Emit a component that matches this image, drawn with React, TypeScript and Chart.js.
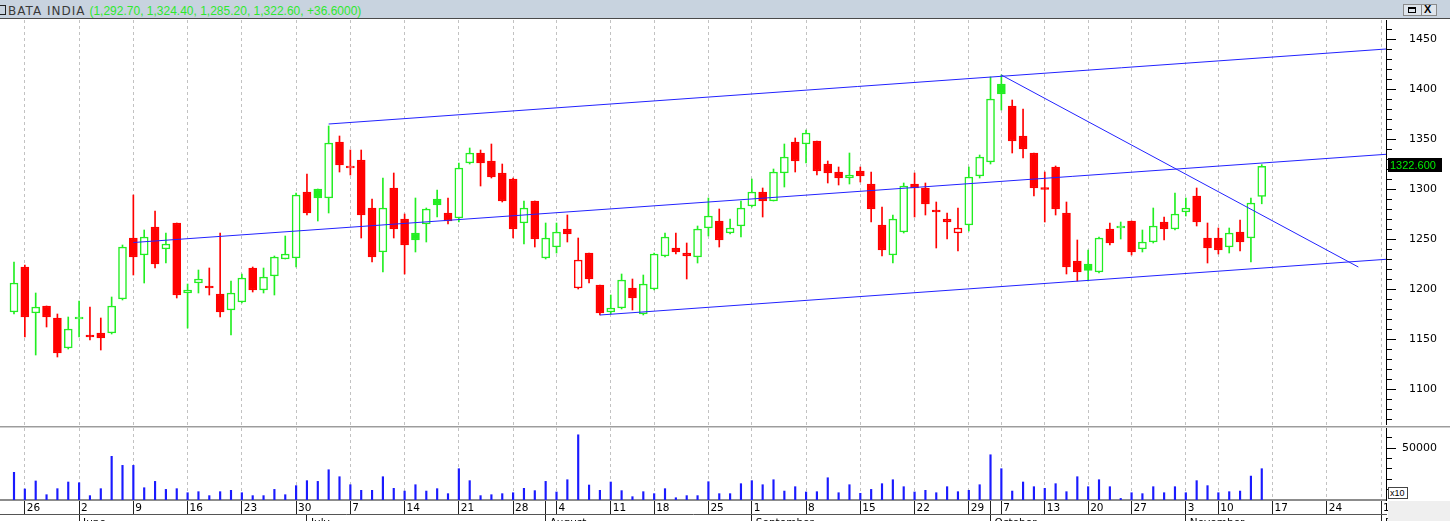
import React, { useEffect, useRef } from 'react';
import { Chart, registerables } from 'chart.js';

Chart.register(...registerables);

// ---------- data (one entry per trading day, 23 May 2014 .. 14 Nov 2014) ----------
const opens = [
  1177, 1222, 1176, 1183, 1171, 1141, 1170, 1153, 1156, 1156,
  1190, 1251, 1234, 1262, 1240, 1266, 1196, 1206, 1202, 1195,
  1179, 1187, 1221, 1199, 1213, 1230, 1231, 1297, 1300, 1291,
  1347, 1321, 1329, 1281, 1237, 1301, 1270, 1256, 1265, 1290,
  1276, 1271, 1326, 1336, 1328, 1316, 1310, 1266, 1288, 1231,
  1242, 1260, 1201, 1236, 1204, 1177, 1181, 1201, 1175, 1200,
  1233, 1241, 1236, 1232, 1261, 1268, 1256, 1263, 1283, 1297,
  1288, 1316, 1347, 1345, 1348, 1325, 1317, 1311, 1318, 1305,
  1264, 1234, 1257, 1305, 1301, 1278, 1270, 1256, 1264, 1313,
  1327, 1405, 1383, 1353, 1336, 1300.5, 1322, 1276, 1228, 1225,
  1217, 1260, 1261, 1268, 1240, 1247, 1267, 1260, 1277, 1293,
  1251, 1251, 1242, 1257, 1251, 1292.7,
];
const highs = [
  1227, 1224, 1196, 1183, 1175, 1172, 1188, 1182, 1171, 1192,
  1244, 1294, 1259, 1278, 1256, 1266, 1205, 1219, 1221, 1256,
  1208, 1215, 1222, 1221, 1233, 1253, 1296, 1315, 1300, 1363,
  1353, 1339, 1339, 1290, 1311, 1316, 1275, 1291, 1281, 1299,
  1291, 1326, 1341, 1339, 1345, 1325, 1311, 1288, 1288, 1266,
  1266, 1274, 1251, 1236, 1204, 1194, 1215, 1210, 1214, 1236,
  1256, 1256, 1246, 1263, 1291, 1280, 1270, 1288, 1310, 1301,
  1320, 1345, 1351, 1359, 1348, 1328, 1322, 1336, 1322, 1317,
  1282, 1274, 1306, 1316, 1306, 1287, 1276, 1281, 1322, 1334,
  1412, 1414, 1389, 1380, 1336, 1317, 1323, 1287, 1249, 1239,
  1252, 1266, 1267, 1268, 1259, 1281, 1272, 1296, 1291, 1301,
  1266, 1261, 1261, 1269, 1291, 1324.4,
];
const lows = [
  1175, 1152, 1134, 1162, 1132, 1140, 1152, 1149, 1139, 1155,
  1189, 1214, 1206, 1221, 1226, 1191, 1161, 1196, 1194, 1172,
  1154, 1186, 1197, 1196, 1194, 1230, 1222, 1274, 1268, 1276,
  1317, 1314, 1251, 1227, 1217, 1251, 1215, 1237, 1247, 1272,
  1265, 1267, 1325, 1303, 1311, 1287, 1251, 1245, 1242, 1230,
  1236, 1247, 1200, 1206, 1174, 1175, 1180, 1179, 1174, 1199,
  1232, 1235, 1210, 1226, 1253, 1242, 1255, 1252, 1282, 1272,
  1288, 1302, 1317, 1326, 1314, 1306, 1304, 1305, 1307, 1267,
  1233, 1226, 1256, 1272, 1274, 1241, 1250, 1238, 1258, 1311,
  1325, 1379, 1336, 1331, 1293, 1267, 1274, 1215, 1208, 1208,
  1216, 1244, 1250, 1234, 1237, 1246, 1249, 1259, 1273, 1263,
  1226, 1235, 1236, 1238, 1227, 1285.2,
];
const closes = [
  1206, 1172, 1182, 1172, 1136, 1160, 1171, 1152, 1151, 1183,
  1242, 1232, 1252, 1225, 1245, 1194, 1199, 1210, 1201, 1177,
  1196, 1211, 1199, 1212, 1232, 1235, 1294, 1276, 1291, 1346,
  1324, 1323, 1274, 1232, 1281, 1260, 1244, 1249, 1280, 1284,
  1268, 1321, 1336, 1326, 1312, 1288, 1260, 1281, 1250, 1251,
  1257, 1255, 1229, 1210, 1176, 1181, 1209, 1191, 1205, 1235,
  1252, 1237, 1233, 1260, 1273, 1249, 1261, 1281, 1297, 1288,
  1317, 1332, 1328, 1356, 1318, 1316, 1311, 1314, 1313, 1280,
  1239, 1270, 1303, 1301, 1285, 1277, 1267, 1261, 1312, 1332,
  1390, 1395, 1348, 1340, 1301, 1299.5, 1280, 1222, 1217, 1218.5,
  1251, 1246, 1261.5, 1237, 1247, 1263, 1260, 1275, 1281, 1267,
  1241, 1239, 1256, 1247, 1286, 1322.6,
];
const volumes = [
  26600, 10600, 18300, 5100, 10900, 17300, 16600, 4200, 10900, 42000,
  33300, 33300, 11800, 17900, 10200, 10900, 7000, 8000, 4200, 8000,
  9300, 7000, 4200, 4200, 10200, 5100, 13800, 18600, 17900, 29100,
  22400, 14700, 9300, 9300, 22400, 11200, 8600, 14700, 8600, 10900,
  6100, 30100, 18600, 4200, 5100, 6100, 7000, 11200, 9000, 17900,
  7700, 19500, 62700, 14400, 9300, 17300, 9000, 3200, 8000, 6100,
  10900, 2200, 4200, 4200, 17600, 6100, 6100, 15700, 18600, 14700,
  19500, 8600, 12800, 7700, 8000, 21400, 7000, 14700, 6400, 10200,
  15700, 19500, 12800, 7700, 9300, 7000, 12800, 8000, 9300, 14700,
  43500, 30100, 8600, 17300, 12800, 11200, 15700, 8000, 22400, 12800,
  19500, 12800, 1500, 7000, 6100, 12800, 7000, 12800, 7000, 18600,
  13800, 7000, 8000, 8600, 23000, 30100,
];

// week starts (trading-day slot index) and their day-of-month labels
const weekStarts = [1, 6, 11, 16, 21, 26, 31, 36, 41, 46, 50, 55, 59, 64, 68, 73, 78, 83, 88, 91, 95, 99, 103, 108, 111, 116, 121, 126];
const weekLabels = ['26', '2', '9', '16', '23', '30', '7', '14', '21', '28', '4', '11', '18', '25', '1', '8', '15', '22', '29', '7', '13', '20', '27', '3', '10', '17', '24', '1'];
const monthStarts = [6, 27, 49, 68, 90, 108, 126];
const monthLabels = ['June', 'July', 'August', 'September', 'October', 'November', 'December'];

const priceLabels = [1100, 1150, 1200, 1250, 1300, 1350, 1400, 1450];
const volumeLabels = [50000];

// trend lines: [slot index, price]
const upperChannel = [[29, 1365], [126.45, 1440]];
const middleChannel = [[11, 1246.5], [126.45, 1334.7]];
const lowerChannel = [[54, 1174], [126.45, 1229.7]];
const downTrend = [[91, 1414], [123.9, 1222]];

// ---------- styling ----------
const X_MIN = -1.29;
const X_MAX = 126.45;
const GREEN = '#22ee22';
const RED = '#ff0000';
const BLUE = '#2222ff';
const GRID = '#c2c2c2';
const FONT = 'DejaVu Sans';

const isUp = (i: number) => (i === 0 ? true : closes[i] >= closes[i - 1]);
const isHollow = (i: number) => closes[i] >= opens[i];
const candleColor = (i: number) => (isUp(i) ? GREEN : RED);

const minorTicks = (from: number, to: number, step: number) => {
  const out: number[] = [];
  for (let v = from; v <= to; v += step) out.push(v);
  return out;
};

const lastPricePlugin = {
  id: 'lastPrice',
  afterDraw(chart: any) {
    const { ctx, chartArea, scales } = chart;
    const v = closes[closes.length - 1];
    const y = scales.y.getPixelForValue(v);
    ctx.save();
    ctx.fillStyle = '#000000';
    ctx.fillRect(chartArea.right + 2, Math.round(y - 8.5), 54, 14);
    ctx.fillStyle = '#00ee00';
    ctx.font = '11px "Liberation Sans"';
    ctx.textBaseline = 'middle';
    ctx.textAlign = 'left';
    ctx.fillText(v.toFixed(3), chartArea.right + 4, Math.round(y - 8.5) + 7.5);
    ctx.restore();
  },
};

const lineDs = (pts: number[][]) => ({
  type: 'line' as const,
  data: pts.map(([x, y]) => ({ x, y })),
  borderColor: BLUE,
  borderWidth: 1,
  pointRadius: 0,
  order: 0,
});

function priceConfig(): any {
  return {
    type: 'bar',
    data: {
      datasets: [
        lineDs(upperChannel),
        lineDs(middleChannel),
        lineDs(lowerChannel),
        lineDs(downTrend),
        {
          type: 'bar',
          data: opens.map((o, i) => ({ x: i, y: [Math.min(o, closes[i]), Math.max(o, closes[i])] })),
          backgroundColor: (c: any) => (c.dataIndex == null ? '#fff' : isHollow(c.dataIndex) ? '#ffffff' : candleColor(c.dataIndex)),
          borderColor: (c: any) => (c.dataIndex == null ? GREEN : candleColor(c.dataIndex)),
          borderWidth: 1.5,
          borderSkipped: false,
          barThickness: 8,
          minBarLength: 2,
          grouped: false,
          order: 1,
        },
        {
          type: 'bar',
          data: highs.map((h, i) => ({ x: i, y: [lows[i], h] })),
          backgroundColor: (c: any) => (c.dataIndex == null ? GREEN : candleColor(c.dataIndex)),
          borderWidth: 0,
          barThickness: 1,
          grouped: false,
          order: 2,
        },
      ],
    },
    options: {
      animation: false,
      responsive: false,
      maintainAspectRatio: false,
      events: [],
      layout: { padding: { left: 0, right: 13, top: 0, bottom: 0 } },
      plugins: { legend: { display: false }, tooltip: { enabled: false }, title: { display: false } },
      scales: {
        x: {
          type: 'linear',
          min: X_MIN,
          max: X_MAX,
          bounds: 'data',
          offset: false,
          afterBuildTicks: (s: any) => { s.ticks = weekStarts.map((v) => ({ value: v })); },
          ticks: { display: false },
          grid: { offset: false, color: GRID, drawTicks: false, lineWidth: 1 },
          border: { display: false, dash: [3, 3] },
          afterFit: (s: any) => { s.height = 0; s.paddingLeft = 0; s.paddingRight = 0; },
        },
        y: {
          type: 'linear',
          position: 'right',
          min: 1064,
          max: 1469,
          bounds: 'data',
          afterBuildTicks: (s: any) => { s.ticks = minorTicks(1070, 1460, 10).map((v) => ({ value: v })); },
          ticks: {
            autoSkip: false,
            callback: (v: number) => (priceLabels.includes(v) ? String(v) : ''),
            crossAlign: 'far',
            padding: 12,
            color: '#000',
            font: { family: FONT, size: 11 },
          },
          grid: {
            drawOnChartArea: false,
            drawTicks: true,
            tickLength: 10,
            tickColor: '#000',
            tickBorderDash: (c: any) => (c.tick && priceLabels.includes(c.tick.value) ? [] : [5, 60]),
          },
          border: { display: true, color: '#000', width: 1 },
          afterFit: (s: any) => { s.width = 51; s.paddingTop = 0; s.paddingBottom = 0; },
        },
      },
    },
    plugins: [lastPricePlugin],
  };
}

const dayTicks = [...weekStarts, ...monthStarts.filter((m) => !weekStarts.some((w) => m - w > 0 && m - w < 2))]
  .filter((v, i, a) => a.indexOf(v) === i)
  .sort((a, b) => a - b);

function volumeConfig(): any {
  return {
    type: 'bar',
    data: {
      datasets: [
        {
          type: 'bar',
          data: volumes.map((v, i) => ({ x: i, y: v })),
          backgroundColor: '#1a1aff',
          borderWidth: 0,
          barThickness: 1.5,
          grouped: false,
        },
      ],
    },
    options: {
      animation: false,
      responsive: false,
      maintainAspectRatio: false,
      events: [],
      layout: { padding: { left: 0, right: 13, top: 0, bottom: 0 } },
      plugins: { legend: { display: false }, tooltip: { enabled: false }, title: { display: false } },
      scales: {
        x: {
          type: 'linear',
          position: 'bottom',
          weight: 0,
          min: X_MIN,
          max: X_MAX,
          bounds: 'data',
          offset: false,
          afterBuildTicks: (s: any) => { s.ticks = dayTicks.map((v) => ({ value: v })); },
          ticks: {
            autoSkip: false,
            maxRotation: 0,
            minRotation: 0,
            align: 'start',
            labelOffset: 2,
            padding: -12.3,
            color: '#000',
            font: { family: FONT, size: 10.5 },
            callback: (v: number) => {
              const k = weekStarts.indexOf(v);
              return k >= 0 ? weekLabels[k] : '';
            },
          },
          grid: {
            offset: false,
            color: (c: any) => (c.tick && weekStarts.includes(c.tick.value) ? GRID : 'rgba(0,0,0,0)'),
            tickBorderDash: [],
            tickColor: '#222',
            tickLength: 14,
            drawTicks: true,
          },
          border: { display: true, color: '#8c8c8c', width: 2, dash: [3, 3] },
          afterFit: (s: any) => { s.height = 14; s.paddingLeft = 0; s.paddingRight = 0; },
        },
        xm: {
          type: 'linear',
          position: 'bottom',
          weight: 1,
          min: X_MIN,
          max: X_MAX,
          bounds: 'data',
          offset: false,
          afterBuildTicks: (s: any) => { s.ticks = monthStarts.map((v) => ({ value: v })); },
          ticks: {
            autoSkip: false,
            maxRotation: 0,
            minRotation: 0,
            align: 'start',
            labelOffset: 4,
            padding: -3.8,
            color: '#000',
            font: { family: FONT, size: 10.5 },
            callback: (v: number) => {
              const k = monthStarts.indexOf(v);
              return k >= 0 ? monthLabels[k] : '';
            },
          },
          grid: { offset: false, drawOnChartArea: false, tickLength: 7, tickColor: '#222', tickBorderDash: [] },
          border: { display: true, color: '#555', width: 1 },
          afterFit: (s: any) => { s.height = 7; s.paddingLeft = 0; s.paddingRight = 0; },
        },
        y: {
          type: 'linear',
          position: 'right',
          min: 0,
          max: 69231,
          bounds: 'data',
          afterBuildTicks: (s: any) => { s.ticks = minorTicks(10000, 60000, 10000).map((v) => ({ value: v })); },
          ticks: {
            autoSkip: false,
            callback: (v: number) => (volumeLabels.includes(v) ? String(v) : ''),
            crossAlign: 'far',
            padding: 12,
            color: '#000',
            font: { family: FONT, size: 11 },
          },
          grid: {
            drawOnChartArea: false,
            drawTicks: true,
            tickLength: 10,
            tickColor: '#000',
            tickBorderDash: (c: any) => (c.tick && volumeLabels.includes(c.tick.value) ? [] : [5, 60]),
          },
          border: { display: true, color: '#000', width: 1 },
          afterFit: (s: any) => { s.width = 51; s.paddingTop = 0; s.paddingBottom = 0; },
        },
      },
    },
  };
}

const last = closes.length - 1;
const fmt = (v: number) => v.toLocaleString('en-US', { minimumFractionDigits: 2, maximumFractionDigits: 2 });
const change = closes[last] - closes[last - 1];
const titleValues = `(${fmt(opens[last])}, ${fmt(highs[last])}, ${fmt(lows[last])}, ${fmt(closes[last])}, ${change >= 0 ? '+' : ''}${change.toFixed(4)})`;

export default function App() {
  const pRef = useRef<HTMLCanvasElement>(null);
  const vRef = useRef<HTMLCanvasElement>(null);

  useEffect(() => {
    document.body.style.margin = '0';
    const pc = new Chart(pRef.current as HTMLCanvasElement, priceConfig());
    const vc = new Chart(vRef.current as HTMLCanvasElement, volumeConfig());
    return () => {
      pc.destroy();
      vc.destroy();
    };
  }, []);

  return (
    <div style={{ position: 'absolute', left: 0, top: 0, width: 1450, height: 521, overflow: 'hidden', background: '#ffffff' }}>
      {/* title bar */}
      <div style={{ position: 'absolute', left: 0, top: 0, width: 1450, height: 18, background: '#c8d3df', borderBottom: '1px solid #4a4a4a' }} />
      <div style={{ position: 'absolute', left: -4, top: 5, width: 8, height: 8, border: '1px solid #222' }} />
      <div style={{ position: 'absolute', left: 8, top: 3, height: 16, lineHeight: '16px', whiteSpace: 'nowrap', fontFamily: 'Liberation Sans', fontSize: 12 }}>
        <span style={{ color: '#3a3a3a', fontFamily: FONT, fontSize: 12, letterSpacing: 1 }}>BATA INDIA</span>
        <span style={{ color: '#2ee82e', marginLeft: 4 }}>{titleValues}</span>
      </div>
      <div style={{ position: 'absolute', left: 1403, top: 4, width: 34, height: 12, background: '#dfe5ec', border: '1px solid #8a8a8a', boxSizing: 'border-box' }}>
        <div style={{ position: 'absolute', left: 4, top: 2, width: 8, height: 6, border: '1px solid #000', borderTopWidth: 2, boxSizing: 'border-box' }} />
        <div style={{ position: 'absolute', left: 17, top: 0, width: 1, height: 10, background: '#8a8a8a' }} />
        <div style={{ position: 'absolute', left: 20, top: -2, fontFamily: 'Liberation Sans', fontWeight: 'bold', fontSize: 11, color: '#000' }}>X</div>
      </div>

      <canvas ref={pRef} width={1450} height={405} style={{ position: 'absolute', left: 0, top: 20, width: 1450, height: 405 }} />

      {/* panel separator */}
      <div style={{ position: 'absolute', left: 0, top: 426, width: 1450, height: 1, background: '#9c9c9c' }} />
      <div style={{ position: 'absolute', left: 0, top: 427, width: 1450, height: 1, background: '#cfcfcf' }} />

      <canvas ref={vRef} width={1450} height={93} style={{ position: 'absolute', left: 0, top: 428, width: 1450, height: 93 }} />

      <div style={{ position: 'absolute', left: 1388, top: 501, width: 62, height: 20, background: '#efefef' }} />
      <div style={{ position: 'absolute', left: 1388, top: 487, width: 20, height: 12, background: '#ffffff', border: '1px solid #444', boxSizing: 'border-box', fontFamily: 'Liberation Sans', fontSize: 9, lineHeight: '10px', paddingLeft: 1, color: '#000' }}>x10</div>
    </div>
  );
}
